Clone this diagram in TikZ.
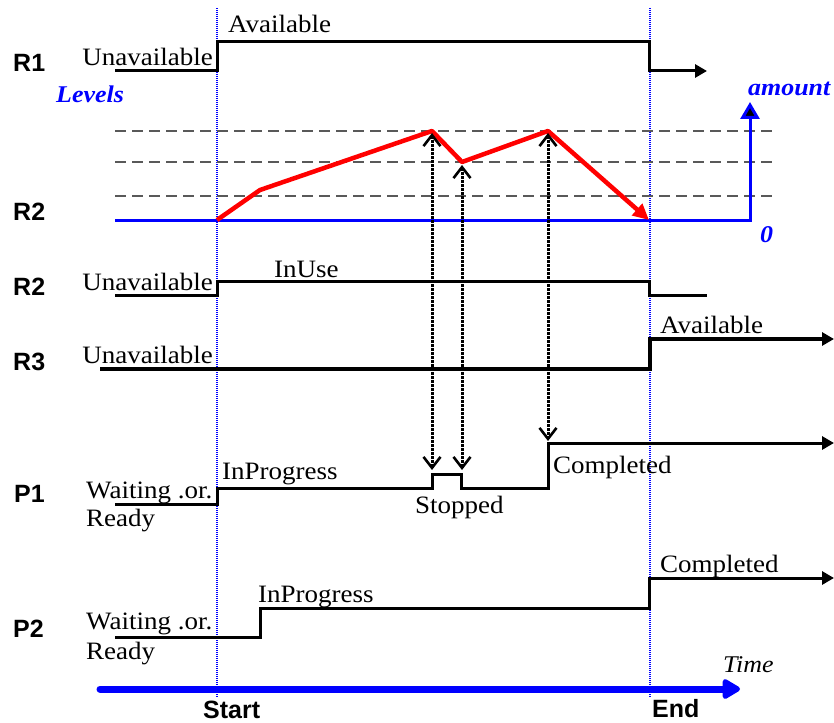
\documentclass[tikz,border=0pt]{standalone}
\usepackage{fontspec}
\setmainfont{Liberation Serif}[FakeStretch=1.08]
\setsansfont{Liberation Sans}
\usetikzlibrary{arrows.meta}
\tikzset{
  sig/.style={line width=3pt, black},
  sigthick/.style={line width=4.5pt, black},
  endtip/.style={-{Triangle[length=12pt,width=13pt]}},
  marker/.style={blue, line width=1.2pt, dash pattern=on 1pt off 1pt},
  lvl/.style={black!65, line width=1.8pt, dash pattern=on 11pt off 6pt},
  link/.style={line width=3pt, dash pattern=on 2.5pt off 1.5pt,
    {Straight Barb[length=11pt,width=17pt,line width=2.6pt]}-{Straight Barb[length=11pt,width=17pt,line width=2.6pt]}},
  lbl/.style={font=\sffamily\bfseries\fontsize{25}{28}\selectfont, inner sep=0pt},
  txt/.style={font=\fontsize{25}{28}\selectfont, inner sep=0pt},
  itxt/.style={font=\itshape\fontsize{24}{28}\selectfont, inner sep=0pt},
  btxt/.style={font=\bfseries\itshape\fontsize{24}{28}\selectfont, text=blue, inner sep=0pt},
}
\begin{document}
\begin{tikzpicture}[x=1pt,y=-1pt]
\useasboundingbox (0,0) rectangle (834,722);

% ---- markers Start / End
\coordinate (st) at (217,8);  \coordinate (sb) at (217,697);
\coordinate (et) at (650,8);  \coordinate (eb) at (650,697);
\draw[marker] (st) -- (sb);
\draw[marker] (et) -- (eb);

% ---- row labels
\node[lbl, anchor=base west] (lR1) at (13,72) {R1};
\node[lbl, anchor=base west] (lR2a) at (13,220) {R2};
\node[lbl, anchor=base west] (lR2b) at (13,295) {R2};
\node[lbl, anchor=base west] (lR3) at (13,370) {R3};
\node[lbl, anchor=base west] (lP1) at (14,502) {P1};
\node[lbl, anchor=base west] (lP2) at (13,637) {P2};
\node[lbl, anchor=base west] (lStart) at (203,718) {Start};
\node[lbl, anchor=base west] (lEnd) at (652,717) {End};

% ---- R1
\coordinate (r1a) at (115,71); \coordinate (r1b) at (217,71);
\coordinate (r1c) at (217,42); \coordinate (r1d) at (649,42);
\coordinate (r1e) at (649,71); \coordinate (r1f) at (707,71);
\draw[sig, endtip] (r1a) -- (r1b) -- (r1c) -- (r1d) -- (r1e) -- (r1f);
\node[txt, anchor=base east] (r1u) at (213,66) {Unavailable};
\node[txt, anchor=base west] (r1v) at (228,33) {Available};

% ---- R2 levels
\node[btxt, anchor=base west] (lev) at (56,103) {Levels};
\coordinate (l1a) at (115,131); \coordinate (l1b) at (778,131);
\coordinate (l2a) at (115,162); \coordinate (l2b) at (778,162);
\coordinate (l3a) at (115,196); \coordinate (l3b) at (778,196);
\draw[lvl] (l1a) -- (l1b);
\draw[lvl] (l2a) -- (l2b);
\draw[lvl] (l3a) -- (l3b);
\coordinate (b0) at (115,220); \coordinate (b1) at (750,220); \coordinate (b2) at (750,102);
\draw[blue, line width=3pt, -{Triangle[length=17pt,width=19pt,fill=black]}] (b0) -- (b1) -- (b2);
\node[btxt, anchor=base west] (amt) at (748,96) {amount};
\node[btxt, anchor=base west] (zero) at (760,242) {0};
\coordinate (p0) at (217,220); \coordinate (p1) at (260,190);
\coordinate (p2) at (432,131); \coordinate (p3) at (462,162);
\coordinate (p4) at (548,131); \coordinate (p5) at (649,220);
\draw[red, line width=4.5pt, line join=round, -{Triangle[length=16pt,width=15pt]}]
  (p0) -- (p1) -- (p2) -- (p3) -- (p4) -- (p5);

% ---- R2 usage
\coordinate (r2a) at (115,295); \coordinate (r2b) at (217,295);
\coordinate (r2c) at (217,281); \coordinate (r2d) at (649,281);
\coordinate (r2e) at (649,295); \coordinate (r2f) at (707,295);
\draw[sig] (r2a) -- (r2b) -- (r2c) -- (r2d) -- (r2e) -- (r2f);
\node[txt, anchor=base east] (r2u) at (213,290) {Unavailable};
\node[txt, anchor=base west] (r2i) at (274,277) {InUse};

% ---- R3
\coordinate (r3a) at (100,369); \coordinate (r3b) at (650,369);
\coordinate (r3c) at (650,339); \coordinate (r3d) at (834,339);
\draw[sigthick, endtip] (r3a) -- (r3b) -- (r3c) -- (r3d);
\node[txt, anchor=base east] (r3u) at (213,363) {Unavailable};
\node[txt, anchor=base west] (r3v) at (660,333) {Available};

% ---- P1
\coordinate (q0) at (115,504); \coordinate (q1) at (217,504);
\coordinate (q2) at (217,488); \coordinate (q3) at (432,488);
\coordinate (q4) at (432,474); \coordinate (q5) at (461,474);
\coordinate (q6) at (461,488); \coordinate (q7) at (548,488);
\coordinate (q8) at (548,443); \coordinate (q9) at (834,443);
\draw[sig, endtip] (q0) -- (q1) -- (q2) -- (q3) -- (q4) -- (q5) -- (q6) -- (q7) -- (q8) -- (q9);
\node[txt, anchor=base west] (p1w) at (86,498) {Waiting .or.};
\node[txt, anchor=base west] (p1r) at (86,526) {Ready};
\node[txt, anchor=base west] (p1i) at (222,479) {InProgress};
\node[txt, anchor=base west] (p1s) at (415,513) {Stopped};
\node[txt, anchor=base west] (p1c) at (553,473) {Completed};

% ---- dotted links between R2 levels and P1
\coordinate (k1t) at (432,133); \coordinate (k1b) at (432,470);
\coordinate (k2t) at (462,165); \coordinate (k2b) at (462,470);
\coordinate (k3t) at (548,133); \coordinate (k3b) at (548,441);
\draw[link] (k1t) -- (k1b);
\draw[link] (k2t) -- (k2b);
\draw[link] (k3t) -- (k3b);

% ---- P2
\coordinate (s0) at (115,637); \coordinate (s1) at (260,637);
\coordinate (s2) at (260,608); \coordinate (s3) at (649,608);
\coordinate (s4) at (649,578); \coordinate (s5) at (834,578);
\draw[sig, endtip] (s0) -- (s1) -- (s2) -- (s3) -- (s4) -- (s5);
\node[txt, anchor=base west] (p2w) at (86,629) {Waiting .or.};
\node[txt, anchor=base west] (p2r) at (86,659) {Ready};
\node[txt, anchor=base west] (p2i) at (258,602) {InProgress};
\node[txt, anchor=base west] (p2c) at (660,572) {Completed};

% ---- time axis
\coordinate (t0) at (100,689); \coordinate (t1) at (740,689);
\draw[blue, line width=7pt, line cap=round, -{Triangle[length=20pt,width=22pt,round]}] (t0) -- (t1);
\node[itxt, anchor=base west] (time) at (723,672) {Time};
\end{tikzpicture}
\end{document}
